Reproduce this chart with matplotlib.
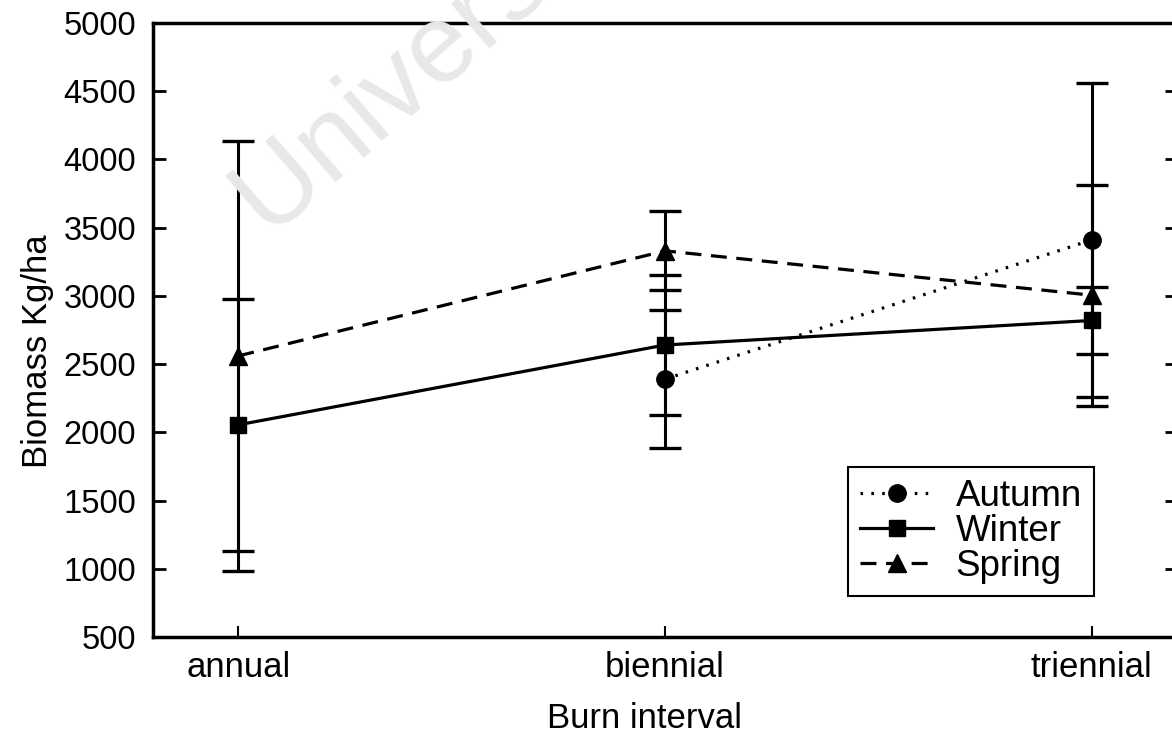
import matplotlib
matplotlib.use("Agg")
import matplotlib.pyplot as plt

plt.rcParams['font.family'] = ['Liberation Sans', 'DejaVu Sans']

# data
intervals = ['annual', 'biennial', 'triennial']
x_autumn = [1, 2]
autumn = [2390, 3410]
autumn_err = [505, 1150]
x_winter = [0, 1, 2]
winter = [2055, 2640, 2820]
winter_err = [925, 515, 245]
x_spring = [0, 1, 2]
spring = [2560, 3330, 3005]
spring_err = [1575, 290, 810]
y_ticks = [500, 1000, 1500, 2000, 2500, 3000, 3500, 4000, 4500, 5000]

fig = plt.figure(figsize=(11.72, 7.38), dpi=100)
W, H = 1172, 738
ax = fig.add_axes([153 / W, (H - 637) / H, (1177 - 153) / W, (637 - 23) / H])

# faint watermark behind the plot (cut by the top edge, as in the scan)
fig.text(270 / W, 1 - 240 / H, 'University of Cape Town', fontsize=80,
         color='#e8e8e8', rotation=41, rotation_mode='anchor',
         ha='left', va='baseline', zorder=0)
ax.set_facecolor('none')

lw = 2.3
err_kw = dict(fmt='none', ecolor='black', elinewidth=2.2, capsize=11.5, capthick=2.4, zorder=2)
ax.errorbar(x_autumn, autumn, yerr=autumn_err, **err_kw)
ax.errorbar(x_winter, winter, yerr=winter_err, **err_kw)
ax.errorbar(x_spring, spring, yerr=spring_err, **err_kw)

h_aut, = ax.plot(x_autumn, autumn, color='black', lw=lw, linestyle=(0, (0.8, 2.6)),
                 marker='o', markersize=12.5, label='Autumn', zorder=3)
h_win, = ax.plot(x_winter, winter, color='black', lw=lw, linestyle='-',
                 marker='s', markersize=11.5, label='Winter', zorder=3)
h_spr, = ax.plot(x_spring, spring, color='black', lw=lw, linestyle=(0, (5, 3)),
                 marker='^', markersize=12.5, label='Spring', zorder=3)

ax.set_xlim(-0.2, 2.2)
ax.set_ylim(500, 5000)
ax.set_xticks(range(len(intervals)))
ax.set_xticklabels(intervals)
ax.set_yticks(y_ticks)
ax.tick_params(axis='y', direction='in', length=9, width=2, left=True, right=True,
               labelsize=23.5, pad=12)
ax.tick_params(axis='x', direction='in', length=8, width=1.5, labelsize=25, pad=10)
for s in ax.spines.values():
    s.set_linewidth(2.5)

ax.set_xlabel('Burn interval', fontsize=25, labelpad=13)
ax.set_ylabel('Biomass Kg/ha', fontsize=25, labelpad=7)
ax.xaxis.label.set_x(0.48)
ax.yaxis.label.set_y(0.465)

leg = ax.legend(handles=[h_aut, h_win, h_spr], loc='upper left',
                bbox_to_anchor=((848 - 153) / 1024, (637 - 467) / 614),
                borderaxespad=0, fontsize=26.5, fancybox=False, framealpha=1,
                edgecolor='black', handlelength=2.0, handletextpad=0.6,
                labelspacing=0.0, borderpad=0.32)
leg.get_frame().set_linewidth(1.5)

fig.savefig('out.png', dpi=100)
